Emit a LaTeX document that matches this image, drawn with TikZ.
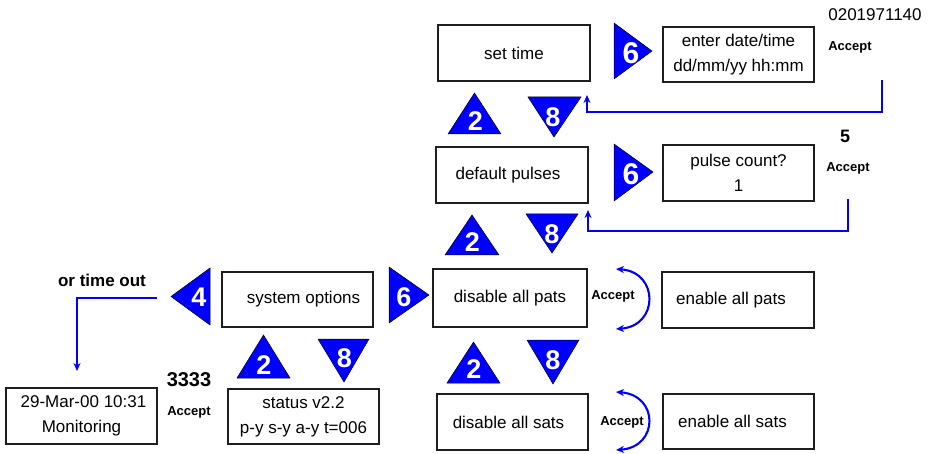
\documentclass[tikz,border=0pt]{standalone}
\usepackage{fontspec}
\setmainfont{Liberation Sans}
\usetikzlibrary{arrows.meta}
\definecolor{keyblue}{RGB}{0,0,255}
\definecolor{boxline}{RGB}{30,30,30}
\tikzset{
  menubox/.style={draw=boxline, line width=1.5pt, fill=white, inner sep=2pt,
    font=\fontsize{17}{25}\selectfont, align=center},
  keytri/.style={fill=keyblue, draw=black, line width=0.5pt, line join=miter},
  keydigit/.style={text=white, font=\fontsize{27}{27}\selectfont\bfseries, inner sep=0pt},
  bigdigit/.style={keydigit, font=\fontsize{30}{30}\selectfont\bfseries},
  flow/.style={draw=keyblue, line width=2.1pt,
    -{Stealth[length=8pt,width=7pt]}},
  swap/.style={draw=keyblue, line width=2.1pt,
    {Stealth[length=8pt,width=7pt]}-{Stealth[length=8pt,width=7pt]}},
  acc/.style={font=\fontsize{13}{13}\selectfont\bfseries, inner sep=0pt},
  note/.style={font=\fontsize{17}{17}\selectfont, inner sep=0pt}
}
\begin{document}
\begin{tikzpicture}[x=1pt,y=-1pt]
\useasboundingbox (0,0) rectangle (934,454);

% menu boxes
\node[menubox, minimum width=152pt, minimum height=56pt] (settime) at (514,53) {set time};
\node[menubox, minimum width=151pt, minimum height=55pt] (enterdate) at (738.5,54.5) {enter date/time\\dd/mm/yy hh:mm};
\node[menubox, minimum width=152pt, minimum height=56pt] (defpulses) at (512,175) {default pulses\hspace*{8pt}};
\node[menubox, minimum width=151pt, minimum height=56pt] (pulsecount) at (738.5,173) {pulse count?\\1};
\node[menubox, minimum width=154pt, minimum height=58pt] (disablepats) at (510,298) {disable all pats};
\node[menubox, minimum width=152pt, minimum height=56pt] (enablepats) at (738,300) {enable all pats\hspace*{14pt}};
\node[menubox, minimum width=151pt, minimum height=56pt] (disablesats) at (512.5,422) {disable all sats\hspace*{8pt}};
\node[menubox, minimum width=151pt, minimum height=55pt] (enablesats) at (738.5,421.5) {enable all sats\hspace*{12pt}};
\node[menubox, minimum width=151pt, minimum height=55pt] (sysopt) at (297.5,299.5) {\hspace*{12pt}system options};
\node[menubox, minimum width=151pt, minimum height=56pt] (monitor) at (81.5,416) {\hspace*{4pt}29-Mar-00 10:31\\Monitoring};
\node[menubox, minimum width=151pt, minimum height=55pt] (status) at (303.5,416.5) {status v2.2\\p-y s-y a-y t=006};

% key "2" (up) triangles
\path[keytri] (448,134) -- (474.5,93) -- (501,134) -- cycle;
\node[keydigit] (up1) at (475.5,121.5) {2};
\path[keytri] (445,255) -- (472,215) -- (499,255) -- cycle;
\node[keydigit] (up2) at (472.5,242) {2};
\path[keytri] (447,383) -- (473.5,342) -- (500,383) -- cycle;
\node[keydigit] (up3) at (474,369) {2};
\path[keytri] (237,378) -- (263.5,335) -- (290,378) -- cycle;
\node[keydigit] (up4) at (264,365) {2};

% key "8" (down) triangles
\path[keytri] (528,97) -- (581,97) -- (554,137) -- cycle;
\node[keydigit] (dn1) at (553,117) {8};
\path[keytri] (526,214) -- (578,214) -- (552,253) -- cycle;
\node[keydigit] (dn2) at (552,234) {8};
\path[keytri] (527,340) -- (579,340) -- (553,384) -- cycle;
\node[keydigit] (dn3) at (553,360) {8};
\path[keytri] (318,339) -- (369,339) -- (344,382) -- cycle;
\node[keydigit] (dn4) at (344.5,358) {8};

% key "6" (right) triangles
\path[keytri] (614,23) -- (652,51) -- (614,79) -- cycle;
\node[bigdigit] (rt1) at (631,53) {6};
\path[keytri] (614,144) -- (653,172) -- (614,201) -- cycle;
\node[bigdigit] (rt2) at (631,174) {6};
\path[keytri] (389,267) -- (429,295) -- (389,323) -- cycle;
\node[keydigit] (rt3) at (404,297) {6};

% key "4" (left) triangle
\path[keytri] (210,268) -- (171,296.5) -- (210,325) -- cycle;
\node[keydigit] (lf1) at (199,297) {4};

% labels
\node[note] (serial) at (875,15) {0201971140};
\node[acc] (acc1) at (850,47) {Accept};
\node[font=\fontsize{18}{18}\selectfont\bfseries, inner sep=0pt] (five) at (845,136) {5};
\node[acc] (acc2) at (848,168) {Accept};
\node[acc] (acc3) at (613,296) {Accept};
\node[acc] (acc4) at (622,422) {Accept};
\node[acc] (acc5) at (189,412) {Accept};
\node[font=\fontsize{17}{17}\selectfont\bfseries, inner sep=0pt] (timeout) at (102,280) {or time out};
\node[font=\fontsize{20}{20}\selectfont\bfseries, inner sep=0pt] (code) at (189,380) {3333};

% return paths after Accept
\coordinate (r1a) at (882,80);
\coordinate (r1b) at (587,95);
\draw[flow] (r1a) -- (882,112) -| (r1b);
\coordinate (r2a) at (848,199);
\coordinate (r2b) at (588,210);
\draw[flow] (r2a) -- (848,231) -| (r2b);

% time out back to the monitoring screen
\coordinate (toa) at (157,298);
\coordinate (tob) at (77,371);
\draw[flow] (toa) -| (tob);

% enable / disable toggles
\coordinate (p1) at (616,269);
\coordinate (p2) at (616,329);
\draw[swap] (p1) .. controls (659,272) and (659,326) .. (p2);
\coordinate (s1) at (616,392);
\coordinate (s2) at (616,450);
\draw[swap] (s1) .. controls (659,395) and (659,447) .. (s2);
\end{tikzpicture}
\end{document}
